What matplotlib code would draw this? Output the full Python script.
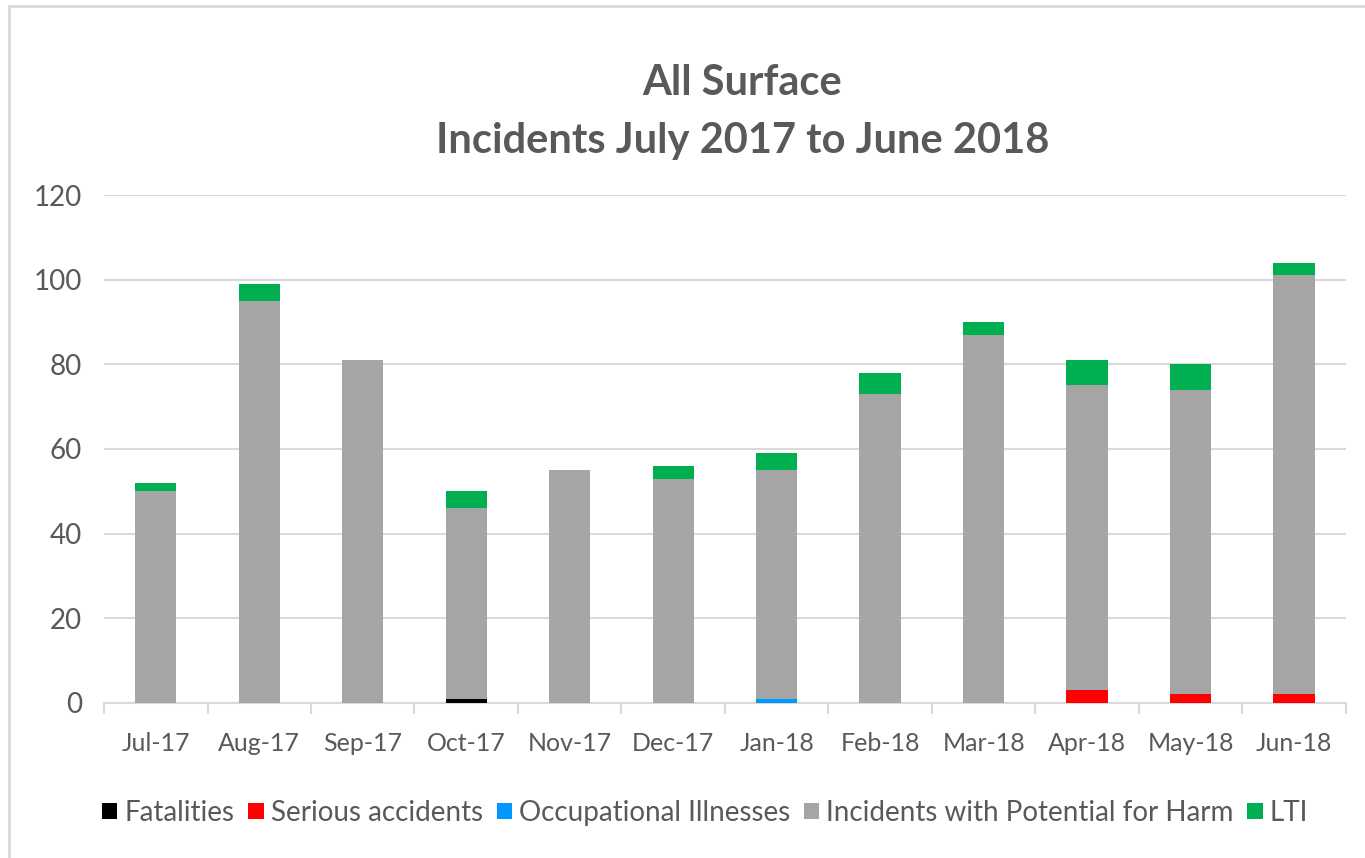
import numpy as np
import matplotlib.pyplot as plt
from matplotlib.patches import Rectangle

# monthly incident counts, All Surface
months = ['Jul-17', 'Aug-17', 'Sep-17', 'Oct-17', 'Nov-17', 'Dec-17',
          'Jan-18', 'Feb-18', 'Mar-18', 'Apr-18', 'May-18', 'Jun-18']
fatalities = [0, 0, 0, 1, 0, 0, 0, 0, 0, 0, 0, 0]
serious = [0, 0, 0, 0, 0, 0, 0, 0, 0, 3, 2, 2]
occupational = [0, 0, 0, 0, 0, 0, 1, 0, 0, 0, 0, 0]
potential_harm = [50, 95, 81, 45, 55, 53, 54, 73, 87, 72, 72, 99]
lti = [2, 4, 0, 4, 0, 3, 4, 5, 3, 6, 6, 3]

series = [('Fatalities', fatalities, '#000000'),
          ('Serious accidents', serious, '#FF0000'),
          ('Occupational Illnesses', occupational, '#0099FF'),
          ('Incidents with Potential for Harm', potential_harm, '#A5A5A5'),
          ('LTI', lti, '#00B050')]

plt.rcParams['font.family'] = ['Lato', 'DejaVu Sans']
txt = '#595959'
grid_col = '#D9D9D9'

fig = plt.figure(figsize=(13.65, 8.58), dpi=100)
ax = fig.add_axes([0.0762, 0.1807, 0.9098, 0.592])

x = np.arange(len(months))
bottom = np.zeros(len(months))
for name, vals, col in series:
    ax.bar(x, vals, 0.4, bottom=bottom, color=col, label=name, zorder=3)
    bottom += np.array(vals)

ax.set_xlim(-0.5, len(months) - 0.5)
ax.set_ylim(0, 120)
ax.set_yticks(range(0, 121, 20))
ax.yaxis.grid(True, color=grid_col, lw=1.5, zorder=0)
ax.tick_params(axis='y', length=0, labelsize=20, colors=txt, pad=16)

ax.set_xticks(x)
ax.set_xticklabels(months)
ax.set_xticks(np.arange(-0.5, len(months)), minor=True)
ax.tick_params(axis='x', which='major', length=0, labelsize=18, colors=txt, pad=21)
ax.tick_params(axis='x', which='minor', length=8, width=1.5, color=grid_col)

for s in ['top', 'right', 'left']:
    ax.spines[s].set_visible(False)
ax.spines['bottom'].set_color(grid_col)
ax.spines['bottom'].set_linewidth(1.5)

fig.text(0.544, 0.903, 'All Surface', ha='center', va='center',
         fontsize=30, fontweight='bold', color=txt)
fig.text(0.544, 0.836, 'Incidents July 2017 to June 2018', ha='center', va='center',
         fontsize=30, fontweight='bold', color=txt)

ax.legend(loc='center', bbox_to_anchor=(0.484, -0.2165), ncol=5, frameon=False,
          fontsize=20, labelcolor=txt, handlelength=0.55, handleheight=0.55,
          handletextpad=0.25, columnspacing=0.5)

# light outer border (only top and left visible in the original crop)
fig.patches.append(Rectangle((9 / 1365, -0.1), 1.2, 0.1 + 1 - 6 / 858,
                             transform=fig.transFigure, fill=False,
                             edgecolor=grid_col, lw=2))

fig.savefig('out.png', dpi=100)
